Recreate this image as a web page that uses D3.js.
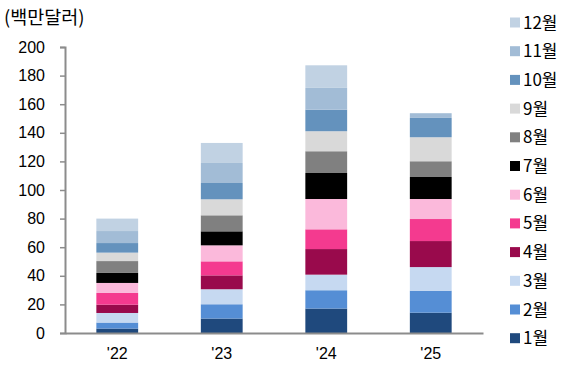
<!DOCTYPE html>
<html>
<head>
<meta charset="utf-8">
<script src="https://cdn.jsdelivr.net/npm/d3@7"></script>
<style>
  body { margin: 0; background: #fff; }
  svg { display: block; font-family: "Noto Sans CJK KR", "Noto Sans", sans-serif; }
</style>
</head>
<body>
<svg id="chart" width="569" height="365"></svg>
<script>
// Monthly amounts (millions of USD), stacked per year
const years = ["'22", "'23", "'24", "'25"];
const months = ["1월", "2월", "3월", "4월", "5월", "6월", "7월", "8월", "9월", "10월", "11월", "12월"];
const m1  = [3.1, 10.1, 17.1, 14.2];
const m2  = [4.2, 10.0, 12.8, 15.4];
const m3  = [6.7, 10.5, 10.9, 16.5];
const m4  = [5.8, 9.7, 17.9, 18.2];
const m5  = [8.2, 9.8, 13.8, 15.4];
const m6  = [7.0, 11.2, 21.2, 14.0];
const m7  = [7.0, 9.8, 18.2, 15.4];
const m8  = [8.3, 11.2, 15.2, 11.0];
const m9  = [5.9, 11.2, 14.0, 16.8];
const m10 = [6.7, 11.4, 15.1, 13.5];
const m11 = [8.4, 14.0, 15.2, 3.3];
const m12 = [8.7, 14.0, 15.8, 0];
const yTicks = [0, 20, 40, 60, 80, 100, 120, 140, 160, 180, 200];
const unitLabel = "(백만달러)";

const colors = ["#1f497d", "#558ed5", "#c6d9f1", "#990a4c", "#f43a8f", "#fbb9db",
                "#000000", "#808080", "#d9d9d9", "#6492bd", "#a2bcd6", "#c1d2e3"];

const series = [m1, m2, m3, m4, m5, m6, m7, m8, m9, m10, m11, m12];
const table = years.map((y, i) => {
  const row = { year: y };
  months.forEach((m, k) => { row[m] = series[k][i]; });
  return row;
});

const svg = d3.select("#chart");
const margin = { left: 65, right: 86, top: 47, bottom: 32 };
const W = 569, H = 365;

const x = d3.scaleBand().domain(years)
  .range([margin.left, W - margin.right])
  .paddingInner(0.6).paddingOuter(0.3);
const y = d3.scaleLinear().domain([0, 200]).range([H - margin.bottom, margin.top]);

const stack = d3.stack().keys(months)(table);

svg.append("g").selectAll("g").data(stack).join("g")
  .attr("fill", (d, i) => colors[i])
  .selectAll("rect").data(d => d).join("rect")
  .attr("x", d => x(d.data.year))
  .attr("width", x.bandwidth())
  .attr("y", d => y(d[1]))
  .attr("height", d => Math.max(0, y(d[0]) - y(d[1])));

const axisColor = "#8c8c8c";

// y axis
const gy = svg.append("g").attr("transform", `translate(${margin.left},0)`)
  .call(d3.axisLeft(y).tickValues(yTicks).tickSize(5).tickPadding(15));
gy.select(".domain").attr("stroke", axisColor).attr("stroke-width", 2);
gy.selectAll(".tick line").attr("stroke", axisColor).attr("stroke-width", 1.5);
gy.selectAll(".tick text").attr("fill", "#000").style("font-size", "16px");

// x axis
const gx = svg.append("g").attr("transform", `translate(0,${H - margin.bottom})`)
  .call(d3.axisBottom(x).tickSize(0).tickPadding(15));
gx.select(".domain").attr("stroke", axisColor).attr("stroke-width", 2);
gx.selectAll(".tick text").attr("fill", "#000").style("font-size", "16px");

// unit label
svg.append("text").attr("x", 4).attr("y", 24)
  .style("font-size", "18.5px").attr("fill", "#000").text(unitLabel);

// legend, December at top
const legend = svg.append("g");
const lx = 510, ly0 = 22, lstep = 28.7;
months.slice().reverse().forEach((m, i) => {
  const idx = months.length - 1 - i;
  const cy = ly0 + i * lstep;
  legend.append("rect").attr("x", lx).attr("y", cy - 4.5)
    .attr("width", 10).attr("height", 10).attr("fill", colors[idx]);
  legend.append("text").attr("x", lx + 13).attr("y", cy + 6.5)
    .style("font-size", "17px").attr("fill", "#000").text(m);
});
</script>
</body>
</html>
